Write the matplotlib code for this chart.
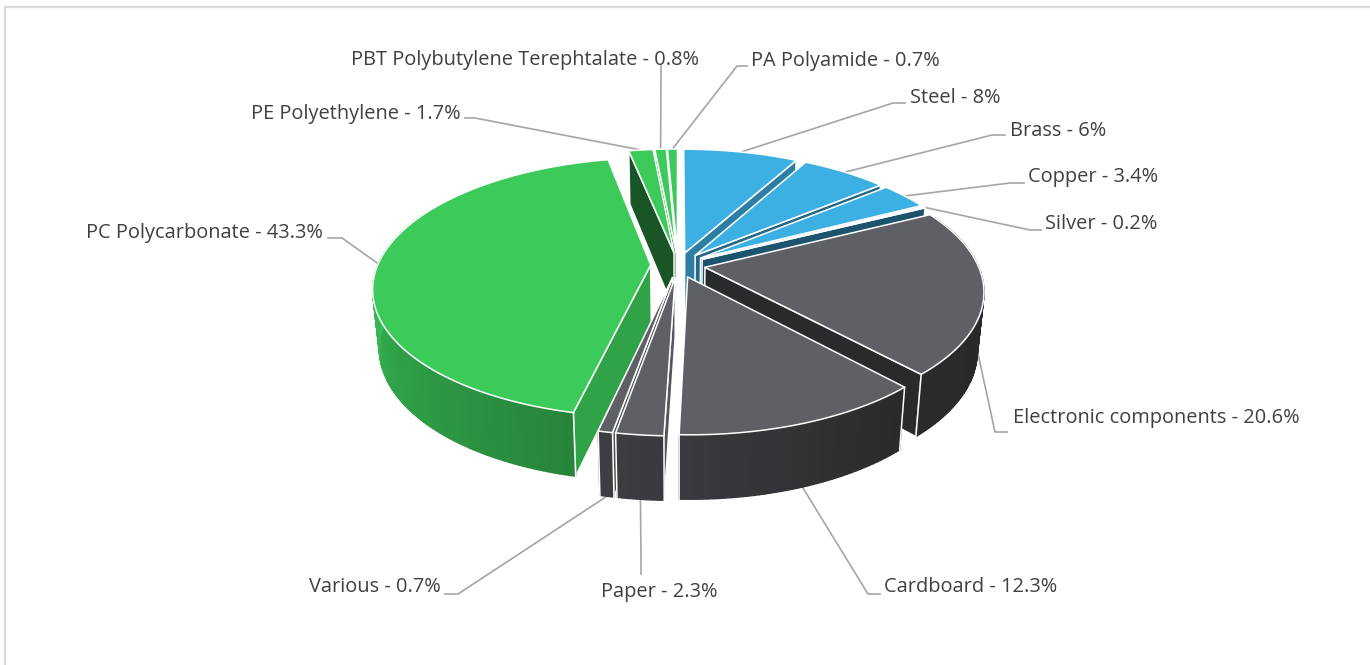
"""Exploded 3D pie of material shares, drawn by hand since matplotlib has no such pie."""

import matplotlib

matplotlib.use("Agg")
import matplotlib.pyplot as plt
import numpy as np

names = ["Steel", "Brass", "Copper", "Silver", "Electronic components", "Cardboard",
         "Paper", "Various", "PC Polycarbonate", "PE Polyethylene",
         "PBT Polybutylene Terephtalate", "PA Polyamide"]
value_labels = ["8%", "6%", "3.4%", "0.2%", "20.6%", "12.3%",
                "2.3%", "0.7%", "43.3%", "1.7%", "0.8%", "0.7%"]
values = [8, 6, 3.4, 0.2, 20.6, 12.3, 2.3, 0.7, 43.3, 1.7, 0.8, 0.7]
groups = ["metal", "metal", "metal", "metal", "grey", "grey",
          "grey", "grey", "green", "green", "green", "green"]

TOP_COL = {"metal": "#3DB0E3", "grey": "#5F6066", "green": "#3CCB5A"}
LINE_COL = "#A5A5A5"
TEXT_COL = "#404040"

# projection of the pie disc to pixels
CX, CY = 678.0, 265.0
R, RY = 273.0, 125.7
K = 0.174
DEPTH = 58.0
SHRINK = 0.978
EXPLODE = 0.10

# text x, text y, ha, elbow x, elbow y, end x, end y
label_layout = [
    (910, 98, "left", 893, 103, 905, 103),
    (1010, 131, "left", 992, 135, 1005, 135),
    (1028, 177, "left", 1010, 183, 1024, 183),
    (1045, 224, "left", 1030, 230, 1041, 230),
    (1013, 418, "left", 995, 432, 1007, 432),
    (884, 587, "left", 868, 594, 880, 594),
    (659, 592, "center", 641, 560, 641, 574),
    (441, 587, "right", 458, 594, 445, 594),
    (323, 233, "right", 342, 238, 328, 238),
    (461, 114, "right", 475, 118, 465, 118),
    (699, 60, "right", 661, 75, 661, 66),
    (751, 61, "left", 737, 66, 747, 66),
]

# brightness of side faces against the clockwise angle
EDGE_ANG = [0, 28.8, 50, 62, 64, 137, 182, 192, 300, 348, 360]
EDGE_SHADE = [0.72, 0.72, 0.6, 0.5, 0.47, 0.43, 0.9, 0.8, 0.6, 0.42, 0.42]
WALL_ANG = [90, 140, 180, 195, 240, 275]
WALL_SHADE = [0.42, 0.44, 0.6, 0.66, 0.8, 0.96]


def project(x, y):
    s = 1.0 / (1.0 - K * np.asarray(y))
    return CX + R * np.asarray(x) * s, CY + RY * np.asarray(y) * s, s


def drop(sx, sy, s):
    # same point on the underside of the slab
    return CX + (sx - CX) * SHRINK, sy + DEPTH * np.sqrt(s)


def shade(hex_col, f):
    rgb = np.array(matplotlib.colors.to_rgb(hex_col))
    return tuple(rgb * f)


def wedge_xy(t, mid):
    ox, oy = EXPLODE * np.sin(mid), -EXPLODE * np.cos(mid)
    return ox + np.sin(t), oy - np.cos(t)


def side_face(ax, apex_x, apex_y, t, mid, col):
    rx, ry = wedge_xy(t, mid)
    x1, y1, s1 = project(apex_x, apex_y)
    x2, y2, s2 = project(rx, ry)
    bx1, by1 = drop(x1, y1, s1)
    bx2, by2 = drop(x2, y2, s2)
    ax.fill([x1, x2, bx2, bx1], [y1, y2, by2, by1], facecolor=col,
            edgecolor="white", lw=1.1, joinstyle="round")


def main():
    vals = np.array(values, dtype=float)
    edges = np.concatenate([[0], np.cumsum(vals)]) / vals.sum() * 2 * np.pi
    mids = (edges[:-1] + edges[1:]) / 2

    fig = plt.figure(figsize=(13.7, 6.65), dpi=100)
    ax = fig.add_axes([0, 0, 1, 1])
    ax.set_xlim(0, 1370)
    ax.set_ylim(665, 0)
    ax.axis("off")

    # chart frame
    ax.plot([5.5, 5.5, 1370], [665, 6.5, 6.5], color="#D9D9D9", lw=1.6)

    # far slices first, the near ones paint over them
    order = sorted(range(len(vals)), key=lambda i: -np.cos(mids[i]))

    wall_lo, wall_hi = np.radians(65), np.radians(295)
    for i in order:
        t0, t1, mid = edges[i], edges[i + 1], mids[i]
        col = TOP_COL[groups[i]]
        apex_x, apex_y = EXPLODE * np.sin(mid), -EXPLODE * np.cos(mid)

        # cut faces that look towards the viewer
        if np.sin(t1) > 0:
            f = np.interp(np.degrees(t1), EDGE_ANG, EDGE_SHADE)
            side_face(ax, apex_x, apex_y, t1, mid, shade(col, f))
        if np.sin(t0) < 0:
            f = np.interp(np.degrees(t0), EDGE_ANG, EDGE_SHADE)
            side_face(ax, apex_x, apex_y, t0, mid, shade(col, f))

        # outer wall; the part on the far side ends up under the top face
        lo, hi = max(t0, wall_lo), min(t1, wall_hi)
        if hi > lo:
            n = max(int(np.degrees(hi - lo)), 4)
            tt = np.linspace(lo, hi, n + 1)
            rx, ry = wedge_xy(tt, mid)
            wx, wy, ws = project(rx, ry)
            bx, by = drop(wx, wy, ws)
            for j in range(n):
                f = np.interp(np.degrees((tt[j] + tt[j + 1]) / 2), WALL_ANG, WALL_SHADE)
                c = shade(col, f)
                ax.fill([wx[j], wx[j + 1], bx[j + 1], bx[j]],
                        [wy[j], wy[j + 1], by[j + 1], by[j]],
                        facecolor=c, edgecolor=c, lw=1.0)
            if lo == t0:
                ax.plot([wx[0], bx[0]], [wy[0], by[0]], color="white", lw=1.1)
            if hi == t1:
                ax.plot([wx[-1], bx[-1]], [wy[-1], by[-1]], color="white", lw=1.1)

        # top face
        tt = np.linspace(t0, t1, max(int(np.degrees(t1 - t0)), 3) + 1)
        rx, ry = wedge_xy(tt, mid)
        tx, ty, _ = project(np.r_[apex_x, rx], np.r_[apex_y, ry])
        ax.fill(tx, ty, facecolor=col, edgecolor="white", lw=1.1, joinstyle="round")

    # labels and leader lines
    for i, lay in enumerate(label_layout):
        tx, ty, ha, ex, ey, fx, fy = lay
        rx, ry = wedge_xy(mids[i], mids[i])
        sx, sy, s = project(rx, ry)
        if np.cos(mids[i]) < -0.1:
            sx, sy = drop(sx, sy, s)
        ax.plot([sx, ex, fx], [sy, ey, fy], color=LINE_COL, lw=1.2, zorder=0.5)
        ax.text(tx, ty, f"{names[i]} - {value_labels[i]}", ha=ha, va="center",
                family="Open Sans", fontsize=14.45, color=TEXT_COL)

    fig.savefig("out.png", dpi=100)


if __name__ == "__main__":
    main()
